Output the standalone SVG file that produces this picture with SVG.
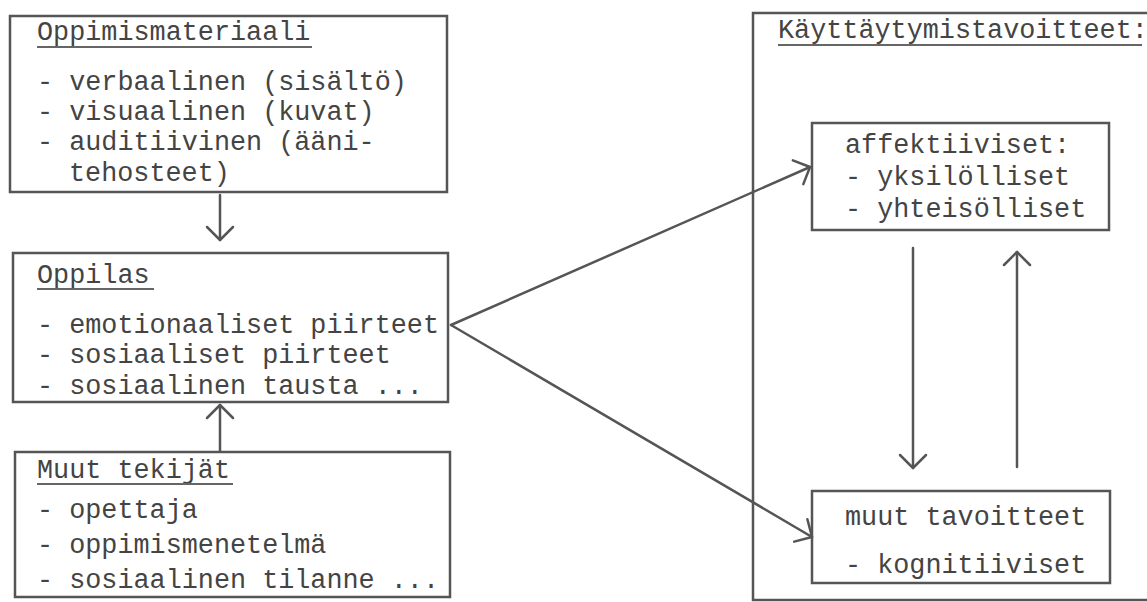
<svg xmlns="http://www.w3.org/2000/svg" width="1147" height="602" viewBox="0 0 1147 602">
  <style>
    .box { fill: none; stroke: #555; stroke-width: 2.5; }
    .t { font-family: "Liberation Mono", "DejaVu Sans Mono", monospace; font-size: 26.8px; fill: #444; }
    .ul { stroke: #666; stroke-width: 2; }
    .conn { fill: none; stroke: #555; stroke-width: 2.5; stroke-linecap: round; }
  </style>
  <defs>
    <marker id="vhead" viewBox="-16 -16 18 32" refX="0" refY="0" markerWidth="18" markerHeight="32" markerUnits="userSpaceOnUse" orient="auto">
      <path d="M-13,-13 L0,0 L-13,13" fill="none" stroke="#555" stroke-width="2.5" stroke-linecap="round" stroke-linejoin="round"/>
    </marker>
  </defs>
  <rect width="1147" height="602" fill="#fff"/>

  <!-- learning material -->
  <g id="oppimismateriaali">
    <rect class="box" x="10" y="16" width="437" height="176"/>
    <text class="t" x="37" y="40">Oppimismateriaali</text>
    <line class="ul" x1="37" y1="47" x2="312" y2="47"/>
    <text class="t" x="37" y="90">- verbaalinen (sisältö)</text>
    <text class="t" x="37" y="120">- visuaalinen (kuvat)</text>
    <text class="t" x="37" y="150">- auditiivinen (ääni-</text>
    <text class="t" x="69" y="181">tehosteet)</text>
  </g>

  <!-- learner -->
  <g id="oppilas">
    <rect class="box" x="13" y="253" width="435" height="149"/>
    <text class="t" x="37" y="283">Oppilas</text>
    <line class="ul" x1="37" y1="289" x2="154" y2="289"/>
    <text class="t" x="37" y="333">- emotionaaliset piirteet</text>
    <text class="t" x="37" y="363">- sosiaaliset piirteet</text>
    <text class="t" x="37" y="394">- sosiaalinen tausta ...</text>
  </g>

  <!-- other factors -->
  <g id="muut-tekijat">
    <rect class="box" x="15" y="452" width="435" height="145"/>
    <text class="t" x="37" y="478">Muut tekijät</text>
    <line class="ul" x1="37" y1="484" x2="233" y2="484"/>
    <text class="t" x="37" y="518">- opettaja</text>
    <text class="t" x="37" y="553">- oppimismenetelmä</text>
    <text class="t" x="37" y="588">- sosiaalinen tilanne ...</text>
  </g>

  <!-- behavioural goals frame -->
  <g id="kayttaytymistavoitteet">
    <rect class="box" x="753" y="13" width="420" height="587"/>
    <text class="t" x="778" y="38">Käyttäytymistavoitteet:</text>
    <line class="ul" x1="778" y1="45" x2="1142" y2="45"/>
  </g>

  <g id="affektiiviset">
    <rect class="box" x="812" y="123" width="297" height="107"/>
    <text class="t" x="845" y="153">affektiiviset:</text>
    <text class="t" x="845" y="185">- yksilölliset</text>
    <text class="t" x="845" y="217">- yhteisölliset</text>
  </g>

  <g id="muut-tavoitteet">
    <rect class="box" x="812" y="491" width="298" height="92"/>
    <text class="t" x="845" y="525">muut tavoitteet</text>
    <text class="t" x="845" y="573">- kognitiiviset</text>
  </g>

  <!-- connectors -->
  <g id="connectors">
    <line class="conn" x1="220" y1="195" x2="220" y2="240" marker-end="url(#vhead)"/>
    <line class="conn" x1="220" y1="451" x2="220" y2="405" marker-end="url(#vhead)"/>
    <line class="conn" x1="451" y1="325" x2="810" y2="167" marker-end="url(#vhead)"/>
    <line class="conn" x1="451" y1="325" x2="812" y2="537" marker-end="url(#vhead)"/>
    <line class="conn" x1="913" y1="248" x2="913" y2="468" marker-end="url(#vhead)"/>
    <line class="conn" x1="1017" y1="467" x2="1017" y2="252" marker-end="url(#vhead)"/>
  </g>
</svg>
